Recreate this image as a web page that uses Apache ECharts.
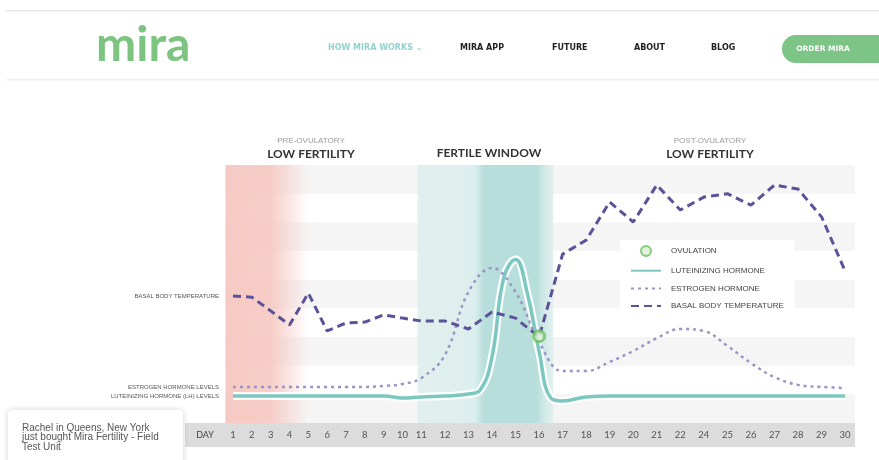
<!DOCTYPE html>
<html>
<head>
<meta charset="utf-8">
<script src="https://cdn.jsdelivr.net/npm/echarts@6/dist/echarts.min.js"></script>
<style>
  html, body { margin: 0; padding: 0; background: #ffffff; }
  #chart { width: 879px; height: 460px; }
</style>
</head>
<body>
<div id="chart"></div>
<script>
// ---- cycle data (one column per day label) ----
const dayLabels = ['1','2','3','4','5','6','7','8','9','10','11','12','13','14','15','16',
                   '17','18','19','20','21','22','24','25','26','27','28','29','30'];

// basal body temperature, relative level
const bbtLevels = [4.43, 4.39, 3.91, 3.42, 4.53, 3.21, 3.49, 3.52, 3.77, 3.66, 3.56, 3.56, 3.28, 3.87, 3.66,
                   3.00, 5.89, 6.38, 7.71, 7.01, 8.30, 7.43, 7.88, 8.00, 7.60, 8.30, 8.16, 7.19, 5.30];

// estrogen hormone, relative level
const estrogenLevels = [1.26, 1.26, 1.26, 1.26, 1.26, 1.26, 1.26, 1.26, 1.29, 1.36, 1.57, 2.37, 4.57, 5.41, 4.57,
                        2.83, 1.81, 1.81, 2.13, 2.51, 2.96, 3.28, 3.21, 2.69, 2.09, 1.60, 1.33, 1.26, 1.22];

// luteinizing hormone: sampled twice a day around the surge
const lhColumns = [0, 1, 2, 3, 4, 5, 6, 7, 8, 9, 10, 11, 12, 12.5, 13, 13.5, 14, 14.5, 15, 15.5, 16,
                   17, 18, 19, 20, 21, 22, 23, 24, 25, 26, 27, 28];
const lhLevels  = [0.94, 0.94, 0.94, 0.94, 0.94, 0.94, 0.94, 0.94, 0.94, 0.87, 0.91, 0.94, 1.01, 1.15, 2.30,
                   5.06, 5.70, 4.53, 2.51, 0.87, 0.77, 0.91, 0.94, 0.94, 0.94, 0.94, 0.94, 0.94, 0.94,
                   0.94, 0.94, 0.94, 0.94];

// ovulation day (column) and its level
const ovulationColumn = 15;
const ovulationLevel = 3.03;

// cycle phases, in columns
const menstruationSpan = [-0.4, 4];
const fertileSpan = [9.8, 15.6];

// ---- axis geometry: the first eleven days sit in narrower columns ----
const NARROW = 4, WIDE = 5, SPLIT = 10;
function colPos(c) {
  return c <= SPLIT ? NARROW * c : NARROW * SPLIT + WIDE * (c - SPLIT);
}
const labelPositions = dayLabels.map((_, i) => colPos(i));
const labelByPos = new Map(labelPositions.map((p, i) => [p, dayLabels[i]]));

const bbtData = bbtLevels.map((v, i) => [colPos(i), v]);
const estrogenData = estrogenLevels.map((v, i) => [colPos(i), v]);
const lhData = lhColumns.map((c, i) => [colPos(c), lhLevels[i]]);

// caption written to the left of a curve's first point
function startCaption(data, text) {
  return {
    symbol: 'circle',
    symbolSize: 0,
    silent: true,
    data: [{
      coord: data[0],
      label: { show: true, position: 'left', distance: 14, formatter: text,
               fontSize: 6, color: '#555', fontFamily: 'Liberation Sans' }
    }]
  };
}

const chart = echarts.init(document.getElementById('chart'), null, { renderer: 'canvas' });

const FONT = 'Lato, "Open Sans", sans-serif';
const hiddenMarker = { opacity: 0 };

chart.setOption({
  animation: false,
  backgroundColor: '#ffffff',
  grid: { left: 225, right: 24, top: 165, bottom: 37 },
  xAxis: {
    type: 'value',
    min: -1.7,
    max: 132.1,
    axisLine: { show: false },
    axisTick: { show: false },
    splitLine: { show: false },
    axisLabel: {
      customValues: labelPositions,
      formatter: v => labelByPos.get(v) || '',
      color: '#555',
      fontSize: 9.5,
      margin: 7,
      fontFamily: FONT
    }
  },
  yAxis: {
    type: 'value',
    min: 0,
    max: 9,
    interval: 1,
    axisLine: { show: false },
    axisTick: { show: false },
    axisLabel: { show: false },
    splitLine: { show: false },
    splitArea: { show: true, areaStyle: { color: ['#f5f5f5', '#ffffff'] } }
  },
  legend: {
    orient: 'vertical',
    left: 620,
    top: 240,
    backgroundColor: '#ffffff',
    padding: [5, 11, 11, 10],
    itemWidth: 30,
    itemHeight: 10,
    itemGap: 9.7,
    textStyle: { fontSize: 8, color: '#444', fontFamily: 'Liberation Sans', padding: [0, 0, 0, 5] },
    data: [
      'OVULATION',
      { name: 'LUTEINIZING HORMONE', itemStyle: hiddenMarker },
      { name: 'ESTROGEN HORMONE', itemStyle: hiddenMarker },
      { name: 'BASAL BODY TEMPERATURE', itemStyle: hiddenMarker }
    ]
  },
  series: [
    {
      // phase bands + white halo under the LH curve
      name: 'lh-halo',
      type: 'line',
      data: lhData,
      smooth: 0.45,
      symbol: 'none',
      silent: true,
      z: 2,
      lineStyle: { color: '#ffffff', width: 8, opacity: 0.9 },
      markArea: {
        silent: true,
        data: [
          [{
            xAxis: colPos(menstruationSpan[0]),
            itemStyle: { color: { type: 'linear', x: 0, y: 0, x2: 1, y2: 0, colorStops: [
              { offset: 0, color: 'rgba(246,200,193,0.95)' },
              { offset: 0.55, color: 'rgba(246,200,193,0.9)' },
              { offset: 1, color: 'rgba(246,200,193,0)' }
            ] } }
          }, { xAxis: colPos(menstruationSpan[1]) }],
          [{
            xAxis: colPos(fertileSpan[0]),
            itemStyle: { color: { type: 'linear', x: 0, y: 0, x2: 1, y2: 0, colorStops: [
              { offset: 0, color: '#e1f0ef' },
              { offset: 0.42, color: '#dceeed' },
              { offset: 0.49, color: '#b8dedb' },
              { offset: 0.88, color: '#b8dedb' },
              { offset: 0.94, color: '#d2eae8' },
              { offset: 1, color: '#e3f1f0' }
            ] } }
          }, { xAxis: colPos(fertileSpan[1]) }]
        ]
      }
    },
    {
      name: 'LUTEINIZING HORMONE',
      type: 'line',
      data: lhData,
      smooth: 0.45,
      symbol: 'none',
      z: 4,
      color: '#7cc8c1',
      lineStyle: { color: '#7cc8c1', width: 3.5 },
      markPoint: startCaption(lhData, 'LUTEINIZING HORMONE (LH) LEVELS')
    },
    {
      name: 'ESTROGEN HORMONE',
      type: 'line',
      data: estrogenData,
      smooth: 0.4,
      symbol: 'none',
      z: 5,
      color: '#9a95c7',
      lineStyle: { color: '#9a95c7', width: 2.5, type: [3, 4] },
      markPoint: startCaption(estrogenData, 'ESTROGEN HORMONE LEVELS')
    },
    {
      name: 'BASAL BODY TEMPERATURE',
      type: 'line',
      data: bbtData,
      symbol: 'none',
      z: 6,
      color: '#5b5299',
      lineStyle: { color: '#5b5299', width: 3, type: [8, 5] },
      markPoint: startCaption(bbtData, 'BASAL BODY TEMPERATURE')
    },
    {
      name: 'OVULATION',
      type: 'scatter',
      data: [[colPos(ovulationColumn), ovulationLevel]],
      symbol: 'circle',
      symbolSize: 11,
      z: 7,
      itemStyle: { color: '#d6f0cf', borderColor: '#6cbf62', borderWidth: 3 }
    }
  ],
  graphic: [
    // header rules
    { type: 'rect', shape: { x: 6, y: 10, width: 873, height: 1.5 }, style: { fill: '#e8e8e8' }, silent: true },
    { type: 'rect', shape: { x: 6, y: 79, width: 873, height: 1.5 }, style: { fill: '#f0f0f0' }, silent: true },
    // logo
    { type: 'text', x: 96, y: 46, style: { text: 'mira', fill: '#7cc47f', fontSize: 48, fontWeight: 'bold',
      fontFamily: 'Lato', verticalAlign: 'middle' } },
    // navigation
    { type: 'text', x: 328, y: 48, style: { text: 'HOW MIRA WORKS \u2304', fill: '#94d2d2', fontSize: 8, fontWeight: 'bold',
      fontFamily: 'DejaVu Sans', verticalAlign: 'middle' } },
    { type: 'text', x: 460, y: 48, style: { text: 'MIRA APP', fill: '#222', fontSize: 8, fontWeight: 'bold',
      fontFamily: 'DejaVu Sans', verticalAlign: 'middle' } },
    { type: 'text', x: 552, y: 48, style: { text: 'FUTURE', fill: '#222', fontSize: 8, fontWeight: 'bold',
      fontFamily: 'DejaVu Sans', verticalAlign: 'middle' } },
    { type: 'text', x: 634, y: 48, style: { text: 'ABOUT', fill: '#222', fontSize: 8, fontWeight: 'bold',
      fontFamily: 'DejaVu Sans', verticalAlign: 'middle' } },
    { type: 'text', x: 711, y: 48, style: { text: 'BLOG', fill: '#222', fontSize: 8, fontWeight: 'bold',
      fontFamily: 'DejaVu Sans', verticalAlign: 'middle' } },
    { type: 'rect', shape: { x: 782, y: 35, width: 112, height: 28, r: 14 }, style: { fill: '#7dc487' } },
    { type: 'text', x: 823, y: 49, style: { text: 'ORDER MIRA', fill: '#ffffff', fontSize: 7.5, fontWeight: 'bold',
      fontFamily: 'DejaVu Sans', align: 'center', verticalAlign: 'middle' } },
    // phase headings
    { type: 'text', x: 311, y: 141, style: { text: 'PRE-OVULATORY', fill: '#9a9a9a', fontSize: 8,
      fontFamily: 'Liberation Sans', align: 'center', verticalAlign: 'middle' } },
    { type: 'text', x: 311, y: 154, style: { text: 'LOW FERTILITY', fill: '#333', fontSize: 12, fontWeight: 'bold',
      fontFamily: FONT, align: 'center', verticalAlign: 'middle' } },
    { type: 'text', x: 489, y: 153, style: { text: 'FERTILE WINDOW', fill: '#333', fontSize: 12, fontWeight: 'bold',
      fontFamily: FONT, align: 'center', verticalAlign: 'middle' } },
    { type: 'text', x: 710, y: 141, style: { text: 'POST-OVULATORY', fill: '#9a9a9a', fontSize: 8,
      fontFamily: 'Liberation Sans', align: 'center', verticalAlign: 'middle' } },
    { type: 'text', x: 710, y: 154, style: { text: 'LOW FERTILITY', fill: '#333', fontSize: 12, fontWeight: 'bold',
      fontFamily: FONT, align: 'center', verticalAlign: 'middle' } },
    // captions inside the bands
    { type: 'text', x: 234, y: 222, rotation: Math.PI / 2, style: { text: 'PERIOD (MENSES)', fill: 'rgba(255,255,255,0.9)',
      fontSize: 6, fontFamily: 'Liberation Sans', align: 'center', verticalAlign: 'middle' } },
    { type: 'text', x: 490, y: 221, rotation: Math.PI / 2, style: { text: 'PEAK FERTILE WINDOW', fill: 'rgba(255,255,255,0.9)',
      fontSize: 6, fontFamily: 'Liberation Sans', align: 'center', verticalAlign: 'middle' } },
    // day strip under the plot
    { type: 'rect', z: -1, shape: { x: 185, y: 423, width: 670, height: 24 }, style: { fill: '#dcdcdc' }, silent: true },
    { type: 'text', x: 205, y: 435, style: { text: 'DAY', fill: '#444', fontSize: 9, fontFamily: FONT,
      align: 'center', verticalAlign: 'middle' } },
    // purchase notice
    { type: 'rect', shape: { x: 8, y: 410, width: 175, height: 60, r: 4 },
      style: { fill: '#ffffff', shadowBlur: 6, shadowColor: 'rgba(0,0,0,0.18)' } },
    { type: 'text', x: 22, y: 423, style: { text: 'Rachel in Queens, New York\njust bought Mira Fertility - Field\nTest Unit',
      fill: '#555', fontSize: 10, lineHeight: 9.5, fontFamily: 'Liberation Sans' } }
  ]
});
</script>
</body>
</html>
